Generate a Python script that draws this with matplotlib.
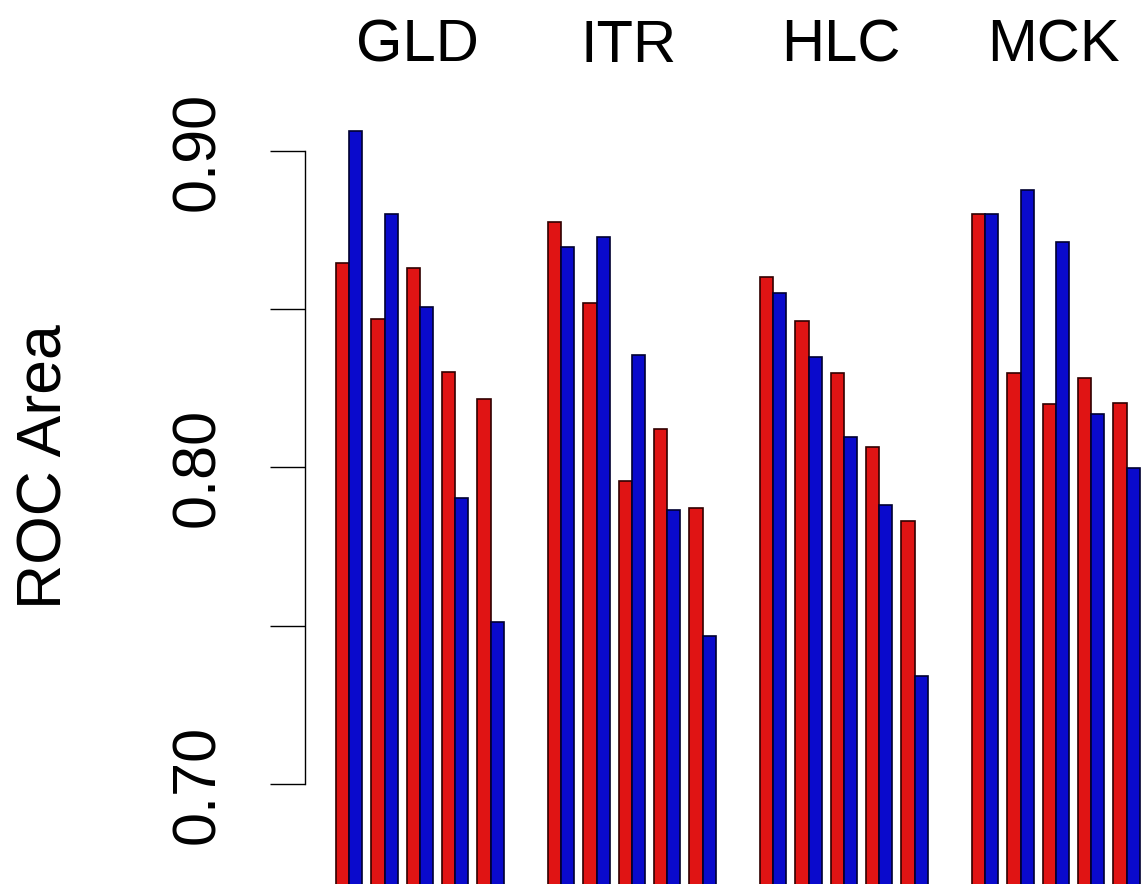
import matplotlib
matplotlib.use('Agg')
import matplotlib.pyplot as plt
import matplotlib.transforms as mtransforms

plt.rcParams['font.family'] = ['Liberation Sans', 'DejaVu Sans']

# datos
grupos = ['GLD', 'ITR', 'HLC', 'MCK']
rojo = [[0.8645, 0.8469, 0.8630, 0.8303, 0.8216],
        [0.8777, 0.8521, 0.7958, 0.8123, 0.7871],
        [0.8601, 0.8463, 0.8299, 0.8065, 0.7832],
        [0.8800, 0.8300, 0.8199, 0.8282, 0.8205]]
azul = [[0.9062, 0.8801, 0.8507, 0.7902, 0.7513],
        [0.8696, 0.8727, 0.8356, 0.7865, 0.7469],
        [0.8552, 0.8350, 0.8097, 0.7882, 0.7341],
        [0.8800, 0.8876, 0.8712, 0.8168, 0.7998]]
ticks_y = [0.70, 0.75, 0.80, 0.85, 0.90]
etiquetas_y = ['0.70', '', '0.80', '', '0.90']

ancho = 0.374      # ancho de cada barra (en huecos de pareja)
por_grupo = 6      # 5 parejas + 1 hueco vacio
base = 0.5

fig = plt.figure(figsize=(11.43, 8.84), dpi=100)
ax = fig.add_axes([305 / 1143, 0, 838 / 1143, 1])

for g, nombre in enumerate(grupos):
    xs = [g * por_grupo + i for i in range(len(rojo[g]))]
    ax.bar(xs, [v - base for v in rojo[g]], width=ancho, bottom=base, align='edge',
           color='#E01414', edgecolor='#300000', linewidth=1.2)
    ax.bar([x + ancho for x in xs], [v - base for v in azul[g]], width=ancho, bottom=base,
           align='edge', color='#0A0ACC', edgecolor='#000030', linewidth=1.2)
    centro = g * por_grupo + (len(rojo[g]) - 1 + 2 * ancho) / 2
    trans = mtransforms.blended_transform_factory(ax.transData, ax.transAxes)
    ax.text(centro - 0.08, 1 - 62 / 884, nombre, transform=trans, ha='center', va='baseline',
            fontsize=43, clip_on=False)

ax.set_xlim(-0.877, 22.84)
ax.set_ylim(0.6684, 0.9477)

for s in ['top', 'right', 'bottom']:
    ax.spines[s].set_visible(False)
ax.spines['left'].set_bounds(0.70, 0.90)
ax.spines['left'].set_linewidth(1.0)
ax.set_xticks([])
ax.set_yticks(ticks_y)
ax.set_yticklabels(etiquetas_y, fontsize=44)
ax.tick_params(axis='y', length=25.2, width=1.0, pad=40)
for lab in ax.get_yticklabels():
    lab.set_rotation(90)
    lab.set_rotation_mode('anchor')
    lab.set_ha('center')
    lab.set_va('baseline')

fig.text(61.7 / 1143, 1 - 467 / 884, 'ROC Area', rotation=90, rotation_mode='anchor',
         ha='center', va='baseline', fontsize=45)

fig.savefig('out.png', dpi=100)
